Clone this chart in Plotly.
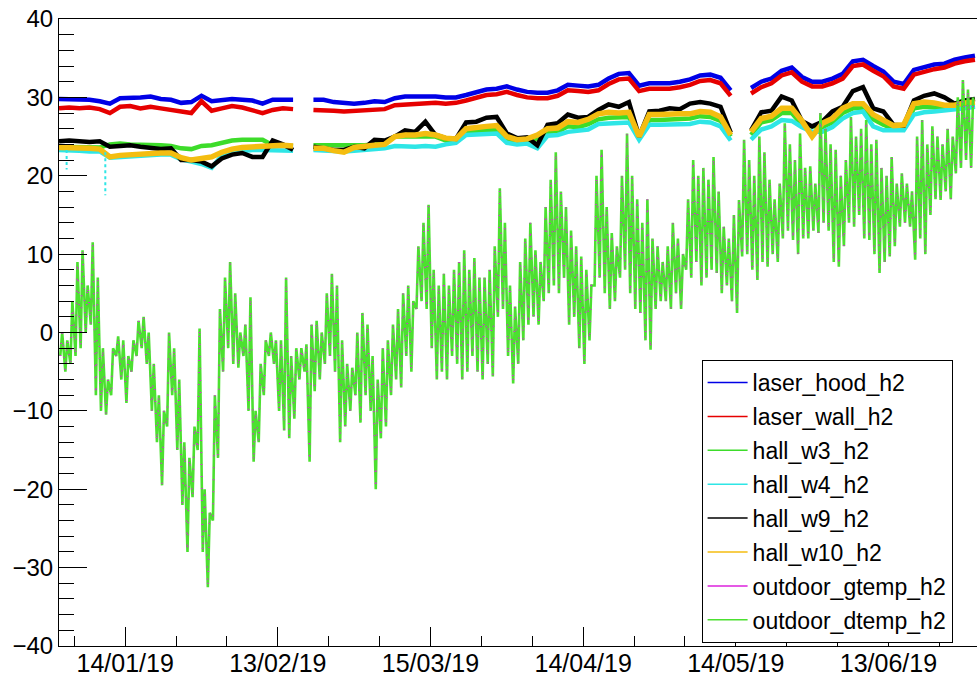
import plotly.graph_objects as go
import pandas as pd

START = pd.Timestamp("2019-01-01")

# ---------------- data ----------------
# indoor series sampled every 2 days from 2019-01-01 (day 0 .. day 180); None = no data
indoor_days = list(range(0, 182, 2))

laser_hood = [
    29.8, 29.8, 29.7, 29.7, 29.5, 29.2, 29.9, 29.9, 30.0, 30.1,
    29.8, 29.7, 29.3, 29.4, 30.2, 29.5, 29.7, 29.8, 29.7, 29.6,
    29.2, 29.7, 29.7, 29.7, None, 29.7, 29.7, 29.4, 29.3, 29.2,
    29.3, 29.5, 29.4, 29.9, 30.1, 30.1, 30.2, 30.1, 30.0, 30.0,
    30.3, 30.7, 31.0, 31.1, 31.4, 31.0, 30.7, 30.6, 30.6, 30.9,
    31.6, 31.5, 31.4, 31.6, 32.4, 33.0, 33.1, 31.5, 31.8, 31.8,
    31.8, 32.0, 32.3, 32.8, 32.9, 32.5, 30.9, None, 31.2, 32.0,
    32.4, 33.4, 33.8, 32.6, 32.0, 32.0, 32.4, 33.0, 34.6, 34.8,
    34.0, 33.3, 32.0, 31.7, 33.5, 33.9, 34.2, 34.3, 34.8, 35.1,
    35.3]

laser_wall = [
    28.6, 28.7, 28.6, 28.7, 28.5, 28.0, 28.8, 28.9, 28.6, 28.8,
    28.6, 28.4, 28.1, 28.0, 29.5, 28.3, 28.6, 28.9, 28.7, 28.3,
    28.0, 28.4, 28.6, 28.5, None, 28.4, 28.4, 28.3, 28.2, 28.3,
    28.4, 28.4, 28.5, 29.0, 29.1, 29.1, 29.2, 29.3, 29.2, 29.3,
    29.6, 30.0, 30.3, 30.4, 30.7, 30.3, 30.0, 29.9, 29.9, 30.2,
    30.9, 30.8, 30.7, 30.9, 31.7, 32.3, 32.4, 30.8, 31.1, 31.1,
    31.1, 31.3, 31.6, 32.1, 32.2, 31.8, 30.2, None, 30.5, 31.3,
    31.8, 32.8, 33.2, 32.0, 31.4, 31.4, 31.8, 32.4, 34.0, 34.2,
    33.4, 32.7, 31.4, 31.1, 32.9, 33.3, 33.6, 33.8, 34.3, 34.6,
    34.8]

hall_w3 = [
    23.7, 23.7, 23.7, 23.6, 23.6, 24.0, 24.1, 24.0, 24.0, 24.0,
    23.9, 23.8, 23.5, 23.4, 23.8, 23.9, 24.2, 24.5, 24.6, 24.6,
    24.6, 23.9, 23.9, 23.8, None, 23.9, 23.9, 23.9, 23.8, 23.9,
    23.9, 24.0, 24.1, 25.0, 25.0, 25.0, 25.1, 25.0, 24.5, 24.5,
    25.6, 25.7, 25.9, 25.9, 24.7, 24.4, 24.5, 24.7, 25.5, 25.6,
    26.3, 26.2, 26.6, 27.2, 27.4, 27.4, 27.5, 24.8, 27.1, 27.1,
    27.2, 27.2, 27.3, 27.6, 27.5, 27.0, 25.0, None, 25.2, 26.8,
    27.1, 28.0, 28.0, 26.5, 26.3, 26.2, 26.8, 28.0, 28.6, 28.6,
    27.2, 26.5, 26.0, 26.1, 28.6, 28.8, 28.7, 28.5, 28.6, 28.9,
    29.0]

hall_w4 = [
    23.3, 23.3, 23.2, 23.1, 23.1, 22.3, 22.4, 22.5, 22.6, 22.7,
    22.7, 22.7, 22.1, 21.8, 21.5, 21.0, 22.6, 23.0, 23.2, 23.3,
    23.3, 23.3, 23.3, 23.2, None, 23.3, 23.2, 23.2, 23.1, 23.2,
    23.3, 23.4, 23.5, 23.8, 23.7, 23.7, 23.8, 23.7, 24.0, 24.2,
    25.2, 25.3, 25.4, 25.4, 24.2, 24.0, 24.1, 23.5, 25.1, 25.2,
    25.6, 25.7, 25.9, 26.6, 26.7, 26.7, 26.8, 24.6, 26.5, 26.5,
    26.5, 26.6, 26.6, 26.9, 26.8, 26.3, 24.5, None, 24.6, 25.9,
    26.3, 27.1, 27.0, 26.2, 25.6, 25.6, 26.2, 27.3, 28.0, 28.2,
    26.3, 25.8, 25.8, 25.8, 27.8, 28.1, 28.2, 28.3, 28.5, 28.6,
    28.8]

hall_w9 = [
    24.4, 24.5, 24.4, 24.3, 24.4, 23.7, 23.8, 23.9, 23.7, 23.5,
    23.4, 23.5, 22.0, 22.0, 21.8, 21.2, 22.2, 22.7, 22.9, 22.4,
    22.4, 24.5, 24.0, 23.3, None, 23.7, 23.5, 23.3, 23.3, 23.7,
    23.5, 24.6, 24.5, 25.0, 25.8, 25.6, 26.9, 25.2, 24.8, 24.7,
    26.8, 26.9, 27.4, 27.5, 25.4, 24.8, 24.9, 23.9, 26.5, 26.7,
    27.8, 27.4, 27.5, 28.4, 29.1, 28.8, 29.4, 25.0, 28.2, 28.3,
    28.6, 28.5, 29.2, 29.4, 29.2, 28.8, 25.5, None, 25.8, 28.1,
    28.3, 30.1, 29.6, 27.0, 26.3, 26.9, 28.2, 28.8, 30.8, 31.3,
    28.6, 28.2, 26.5, 26.4, 29.6, 30.2, 30.5, 30.0, 29.2, 29.6,
    29.8]

hall_w10 = [
    23.6, 23.6, 23.5, 23.5, 23.4, 22.4, 22.6, 22.7, 22.8, 22.9,
    22.9, 22.9, 22.3, 22.0, 22.2, 22.4, 23.0, 23.4, 23.6, 23.7,
    23.7, 23.9, 23.9, 23.8, None, 23.5, 23.5, 23.2, 23.0, 23.6,
    23.8, 23.9, 24.0, 25.0, 25.2, 25.2, 25.4, 25.2, 24.8, 24.7,
    26.0, 26.2, 26.3, 26.4, 25.0, 24.6, 24.7, 25.2, 26.0, 26.1,
    26.9, 26.8, 27.2, 27.9, 28.1, 28.0, 28.1, 25.0, 27.8, 27.8,
    27.9, 27.9, 27.9, 28.2, 28.1, 27.5, 25.2, None, 25.6, 27.3,
    27.6, 28.6, 28.6, 27.0, 25.0, 26.7, 27.3, 28.6, 29.2, 29.2,
    27.8, 27.0, 26.4, 26.5, 29.2, 29.4, 29.3, 29.0, 29.0, 29.3,
    29.4]

# short dotted drop-outs of hall_w4
w4_drop_days = [1.5, 9.1]
w4_drop_hi = [23.3, 23.0]
w4_drop_lo = [20.8, 17.5]

# outdoor temperature: daily minimum and maximum, day 0 .. day 179
outdoor_min = [
    -3, -5, -4, -3, -2, 0, 1, -8, -10, -10.5,
    -8, -3, -6, -9, -5, -3, -2, -4, -10, -14,
    -19.5, -12, -8, -15, -22, -28, -21, -15, -28, -32.5,
    -24, -16, -5, -2, -4, -4.5, -3, -10, -16.5, -14,
    -8, -3, -4, -10, -12.5, -13.5, -11, -6, -5, -16.5,
    -7.5, -6, -4, -3, -5, -14, -12, -10, -8, -11.5,
    -8, -10, -20, -13.5, -12, -8, -6, -7, -3, -5,
    3, 4, 3, -2, -6, -5, -6, -3, -4, -6,
    -5, -3, -5, -6, -4, -5.6, 2, 3, -3, -6.5,
    -4, -1, 1, 2, 1, 4, 5, 6, 5, 7,
    1, 2, -2, -4, -1, 6, 7, 5, 3, 4,
    7, 8, 5, 3, 2.5, -1, -2.2, 3, 4, 4,
    3, 5, 3, 8, 7, 9, 6, 7, 8, 7.6,
    5, 6, 4, 2.5, 9.7, 10, 8, 6.7, 9, 8.4,
    10, 9, 12, 13, 11.8, 10, 12, 12, 13, 12.7,
    14, 13, 9, 8.4, 11, 14, 13.5, 15, 12, 11.8,
    10, 7.6, 9, 9.7, 11, 13.5, 14, 13.5, 9.3, 12,
    10, 15, 17, 16.9, 18, 17, 20.3, 21, 22, 21]

outdoor_max = [
    0, -1, 4, 9, 10.5, 6, 11.5, 7, -2, -6,
    -2, -0.5, -1, -3, -1, 1.5, 2, 0, -4, -8,
    -10, 0, -2, -6, -14, -16, -12, 0.5, -20, -23,
    -8, 3, 7, 9, 5, 0, 1, 4.5, -10, -4,
    -1, 0, -1, -1, 7, -3, -2, -2, -1.5, 1,
    1.5, 0, 5, 7.5, 6, -1, -4, -4.5, 0, 2.5,
    1, -3, -6, -2, -1, 1, 3, 5, 6, 4,
    11, 14, 16.3, 8, 6, 7.5, 6, 8, 9, 10.5,
    8, 9.5, 7, 7, 8, 11, 18.4, 14, 6, 3.3,
    9, 12, 14, 10.5, 9, 16, 19.5, 23, 18, 16,
    13, 11, 9.7, 8, 6, 20, 23.3, 16, 12.7, 11,
    20, 25.4, 20, 17, 14, 17, 12, 11, 9, 11,
    14, 12, 10, 17, 22, 20, 21, 19.5, 22.4, 18,
    13.5, 12, 15, 16.9, 24.6, 22, 20, 25, 23, 19.5,
    17, 19, 26.7, 24, 22, 25.4, 21, 21.2, 19, 28,
    26, 24, 23.3, 20, 22, 27.5, 25, 26, 27.1, 24,
    24.6, 21, 20, 22.4, 19, 20.3, 19, 18, 25, 27.1,
    24, 26.3, 25, 24, 26, 25, 30, 32.2, 31, 30]

x_tick_labels = ["14/01/19", "13/02/19", "15/03/19", "14/04/19", "14/05/19", "13/06/19"]
x_tick_days = [13, 43, 73, 103, 133, 163]

names = ["laser_hood_h2", "laser_wall_h2", "hall_w3_h2", "hall_w4_h2",
         "hall_w9_h2", "hall_w10_h2", "outdoor_gtemp_h2", "outdoor_dtemp_h2"]
colors = ["#0000e6", "#e60000", "#3ddc2a", "#2ee6e6",
          "#000000", "#f4bd10", "#dd22dd", "#4ce030"]

# ---------------- figure ----------------
def dt(d):
    return START + pd.Timedelta(days=d)

x_in = [dt(d) for d in indoor_days]

fig = go.Figure()

indoor = [laser_hood, laser_wall, hall_w3, hall_w4, hall_w9, hall_w10]
widths = [4.5, 4.5, 4.5, 4.5, 4.5, 5.5]
for vals, c, w in zip(indoor, colors[:6], widths):
    fig.add_trace(go.Scatter(x=x_in, y=vals, mode="lines",
                             line=dict(color=c, width=w, shape="linear"),
                             connectgaps=False, showlegend=False, hoverinfo="skip"))

# dotted drop-outs of hall_w4
dx, dy = [], []
for d, hi, lo in zip(w4_drop_days, w4_drop_hi, w4_drop_lo):
    dx += [dt(d), dt(d), None]
    dy += [hi, lo, None]
fig.add_trace(go.Scatter(x=dx, y=dy, mode="lines",
                         line=dict(color=colors[3], width=2, dash="dot"),
                         showlegend=False, hoverinfo="skip"))

# outdoor zig-zag (daily min at 06:00, max at 15:00)
ox, oy = [], []
for i, (lo, hi) in enumerate(zip(outdoor_min, outdoor_max)):
    ox += [dt(i + 0.25), dt(i + 0.625)]
    oy += [lo, hi]
fig.add_trace(go.Scatter(x=ox, y=oy, mode="lines",
                         line=dict(color=colors[7], width=2.6),
                         showlegend=False, hoverinfo="skip"))
fig.add_trace(go.Scatter(x=ox, y=oy, mode="lines",
                         line=dict(color=colors[6], width=1.6, dash="1px,11px"),
                         showlegend=False, hoverinfo="skip"))

# legend entries (thin solid lines, as in the original)
for k, (n, c) in enumerate(zip(names, colors)):
    fig.add_trace(go.Scatter(x=[None], y=[None], mode="lines",
                             line=dict(color=c, width=1.5), name=n,
                             legendgroup="g%d" % k))

font = "Liberation Sans, Arial, Helvetica, sans-serif"
fig.update_layout(
    width=977, height=676,
    margin=dict(l=59, r=0, t=19, b=30, autoexpand=False),
    paper_bgcolor="white", plot_bgcolor="white",
    font=dict(family=font, size=24, color="black"),
    showlegend=True,
    legend=dict(x=0.7, y=0.4561, xanchor="left", yanchor="top",
                bgcolor="white", bordercolor="black", borderwidth=1,
                font=dict(family=font, size=23, color="black"),
                itemwidth=40, tracegroupgap=1, traceorder="grouped"),
)
fig.update_xaxes(
    type="date",
    range=[dt(0), dt(180.4)],
    tickmode="array",
    tickvals=[dt(d) for d in x_tick_days],
    ticktext=x_tick_labels,
    ticks="inside", ticklen=19, tickwidth=1, tickcolor="black",
    minor=dict(ticks="inside", ticklen=10, tickwidth=1, tickcolor="black",
               tick0=dt(3), dtick=10 * 86400000),
    showline=True, linecolor="black", linewidth=1, mirror=True,
    showgrid=False, zeroline=False, automargin=False,
    tickfont=dict(size=25), ticklabelstandoff=-5,
)
fig.update_yaxes(
    range=[-40, 40],
    tick0=0, dtick=10,
    ticks="inside", ticklen=28, tickwidth=1, tickcolor="black",
    minor=dict(ticks="inside", ticklen=15, tickwidth=1, tickcolor="black", dtick=2),
    showline=True, linecolor="black", linewidth=1, mirror=True,
    showgrid=False, zeroline=False, automargin=False,
    tickfont=dict(size=24),
)

# the page's default 8px body margin would shift the figure; remove it
fig.write_html("out.html", config={"displayModeBar": False},
               post_script="document.body.style.margin='0';document.body.style.overflow='hidden';")
